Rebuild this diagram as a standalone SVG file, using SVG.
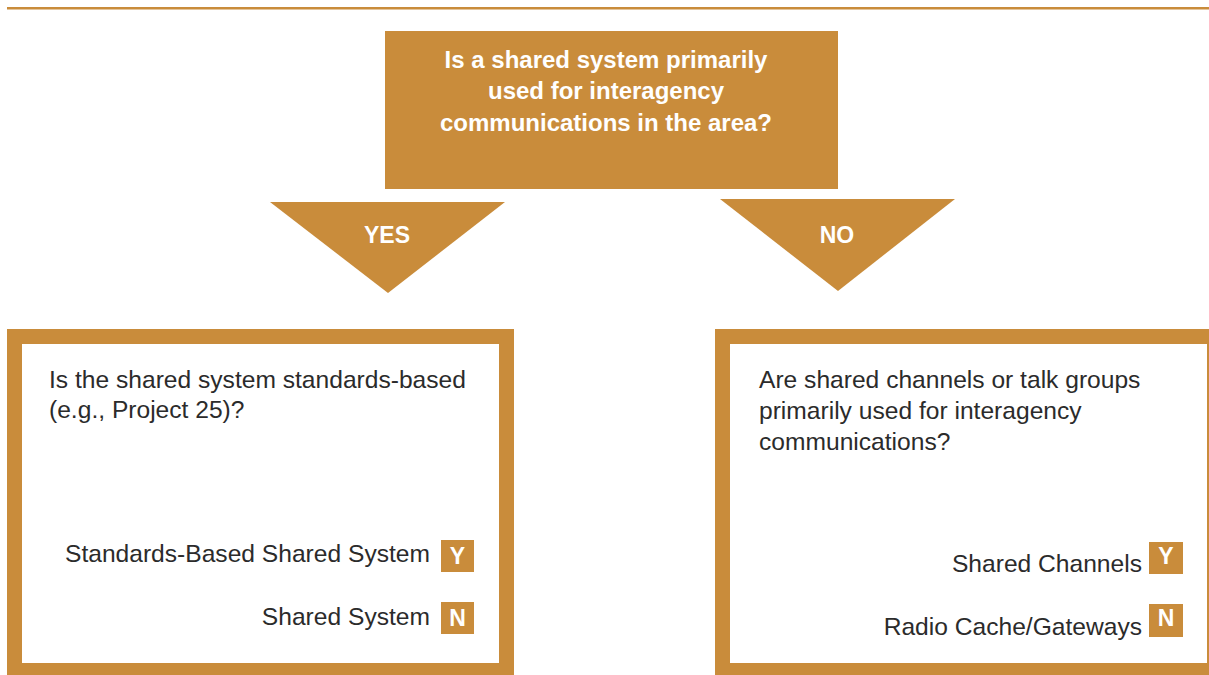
<svg xmlns="http://www.w3.org/2000/svg" width="1209" height="675" viewBox="0 0 1209 675">
<style>
.gold{fill:#C98C3B}
.w{fill:#fff}
.title{font-family:"Liberation Sans",Arial,sans-serif;font-weight:bold;font-size:24px;fill:#fff;text-anchor:middle}
.lbl{font-family:"Liberation Sans",Arial,sans-serif;font-weight:bold;font-size:23px;fill:#fff;text-anchor:middle}
.q{font-family:"Liberation Sans",Arial,sans-serif;font-size:24.6px;fill:#2b2b2b}
.a{font-family:"Liberation Sans",Arial,sans-serif;font-size:24.6px;fill:#2b2b2b;text-anchor:end}
.yn{font-family:"Liberation Sans",Arial,sans-serif;font-weight:bold;font-size:23px;fill:#fff;text-anchor:middle}
</style>
<rect width="1209" height="675" fill="#fff"/>
<rect x="7" y="7" width="1202" height="2.5" class="gold"/>
<g id="root">
<rect x="385" y="31" width="453" height="158" class="gold"/>
<text class="title" x="606" y="68">Is a shared system primarily</text>
<text class="title" x="606" y="99">used for interagency</text>
<text class="title" x="606" y="131">communications in the area?</text>
</g>
<g id="connectors">
<g id="yes">
<polygon points="270,202 505,202 388,293" class="gold"/>
<text class="lbl" x="387" y="243">YES</text>
</g>
<g id="no">
<polygon points="720,199 955,199 838,291" class="gold"/>
<text class="lbl" x="837" y="243">NO</text>
</g>
</g>
<g id="left">
<rect x="7" y="329" width="507" height="346" class="gold"/>
<rect x="22" y="344" width="477" height="319" class="w"/>
<text class="q" x="49" y="388">Is the shared system standards-based</text>
<text class="q" x="49" y="418">(e.g., Project 25)?</text>
<text class="a" x="430" y="562">Standards-Based Shared System</text>
<rect x="441" y="540" width="33" height="32" class="gold"/>
<text class="yn" x="457.5" y="564">Y</text>
<text class="a" x="430" y="625">Shared System</text>
<rect x="441" y="602" width="33" height="32" class="gold"/>
<text class="yn" x="457.5" y="626">N</text>
</g>
<g id="right">
<rect x="715" y="329" width="494" height="346" class="gold"/>
<rect x="730" y="344" width="477" height="319" class="w"/>
<text class="q" x="759" y="388">Are shared channels or talk groups</text>
<text class="q" x="759" y="419">primarily used for interagency</text>
<text class="q" x="759" y="450">communications?</text>
<text class="a" x="1142" y="572">Shared Channels</text>
<rect x="1149" y="542" width="34" height="32" class="gold"/>
<text class="yn" x="1166" y="564">Y</text>
<text class="a" x="1142" y="635">Radio Cache/Gateways</text>
<rect x="1149" y="604" width="34" height="33" class="gold"/>
<text class="yn" x="1166" y="626">N</text>
</g>
</svg>
